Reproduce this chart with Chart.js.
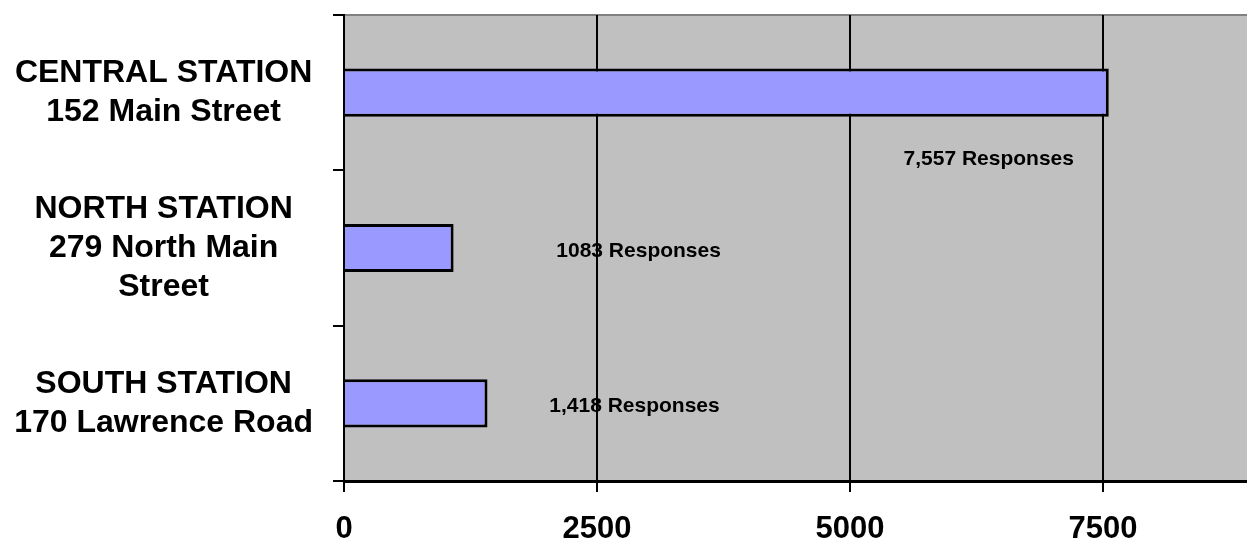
<!DOCTYPE html>
<html>
<head>
<meta charset="utf-8">
<script src="https://cdn.jsdelivr.net/npm/chart.js@4/dist/chart.umd.min.js"></script>
<style>
  html, body { margin: 0; padding: 0; background: #fff; }
  #wrap { width: 1247px; height: 541px; }
</style>
</head>
<body>
<div id="wrap"><canvas id="stations"></canvas></div>
<script>
const stations = [
    ['CENTRAL STATION', '152 Main Street'],
    ['NORTH STATION', '279 North Main', 'Street'],
    ['SOUTH STATION', '170 Lawrence Road']
];
const responses = [7557, 1083, 1418];
const groupDigits = [true, false, true];
const axisTicks = [0, 2500, 5000, 7500];

const FONT = '"Liberation Sans", Arial, sans-serif';

// grey plot background with a thin darker top edge
const plotBackground = {
    id: 'plotBackground',
    beforeDraw(chart) {
        const { ctx, chartArea: a } = chart;
        ctx.save();
        ctx.fillStyle = '#c0c0c0';
        ctx.fillRect(a.left, a.top, a.right - a.left, a.bottom - a.top);
        ctx.strokeStyle = '#808080';
        ctx.lineWidth = 2;
        ctx.beginPath();
        ctx.moveTo(a.left, a.top);
        ctx.lineTo(a.right, a.top);
        ctx.stroke();
        ctx.restore();
    }
};

// "N Responses" labels, placed relative to each bar's end
const responseLabels = {
    id: 'responseLabels',
    afterDatasetsDraw(chart, args, opts) {
        const { ctx } = chart;
        const bars = chart.getDatasetMeta(0).data;
        ctx.save();
        ctx.font = 'bold 21px ' + FONT;
        ctx.fillStyle = '#000';
        ctx.textAlign = 'center';
        ctx.textBaseline = 'middle';
        bars.forEach((bar, i) => {
            const v = responses[i];
            const num = groupDigits[i] ? v.toLocaleString('en-US') : String(v);
            const [dx, dy] = opts.offsets[i];
            ctx.fillText(num + ' Responses', bar.x + dx, bar.y + dy);
        });
        ctx.restore();
    }
};

new Chart(document.getElementById('stations'), {
    type: 'bar',
    data: {
        labels: stations,
        datasets: [{
            data: responses,
            backgroundColor: '#9999ff',
            borderColor: '#000',
            borderWidth: 3,
            borderSkipped: 'start',
            categoryPercentage: 1,
            barPercentage: 0.31
        }]
    },
    options: {
        indexAxis: 'y',
        responsive: true,
        maintainAspectRatio: false,
        animation: false,
        layout: { padding: { top: 15, right: 0, bottom: 0, left: 0 } },
        scales: {
            x: {
                min: 0,
                max: 8923,
                afterBuildTicks: (scale) => {
                    scale.ticks = axisTicks.map((value) => ({ value }));
                },
                afterFit: (scale) => { scale.height = 60; },
                grid: {
                    color: '#000',
                    lineWidth: 2,
                    tickLength: 11,
                    tickColor: '#000'
                },
                border: { color: '#000', width: 3 },
                ticks: {
                    color: '#000',
                    padding: 24,
                    maxRotation: 0,
                    callback: (value) => String(value),
                    font: { family: FONT, size: 31, weight: 'bold', lineHeight: 0.9 }
                }
            },
            y: {
                afterFit: (scale) => {
                    scale.width = 344;
                    scale.paddingTop = 0;
                    scale.paddingBottom = 0;
                },
                grid: {
                    drawOnChartArea: false,
                    offset: true,
                    tickLength: 11,
                    tickColor: '#000',
                    lineWidth: 2
                },
                border: { color: '#000', width: 2 },
                ticks: {
                    color: '#000',
                    padding: 20,
                    crossAlign: 'center',
                    font: { family: FONT, size: 32, weight: 'bold', lineHeight: 1.22 }
                }
            }
        },
        plugins: {
            legend: { display: false },
            tooltip: { enabled: false },
            responseLabels: {
                offsets: [[-120, 67], [185, 3], [147, 3]]
            }
        }
    },
    plugins: [plotBackground, responseLabels]
});
</script>
</body>
</html>
